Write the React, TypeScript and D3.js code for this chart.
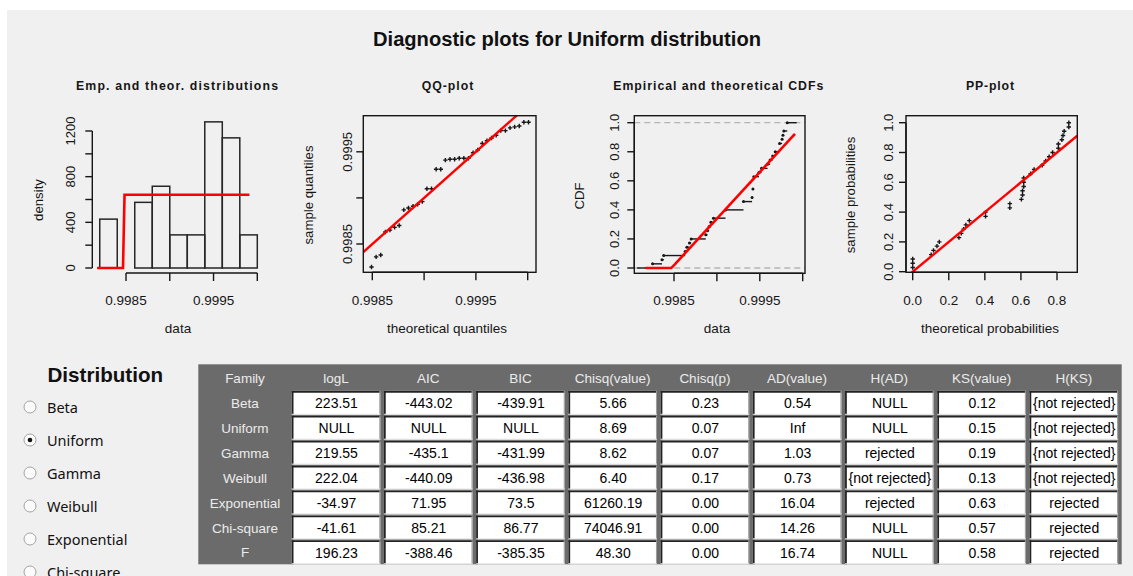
import React, { useEffect } from "react";
import * as d3 from "d3";

// ---- fitted sample (sorted) and uniform fit bounds ----
const sampleValues = [
  0.99825, 0.99836, 0.99838, 0.99863, 0.99865, 0.99868, 0.9987, 0.99887, 0.99889,
  0.99891, 0.99893, 0.99896, 0.9991, 0.9991, 0.99931, 0.99931, 0.99941, 0.99942,
  0.99942, 0.99943, 0.99943, 0.99943, 0.99949, 0.99952, 0.99959, 0.99962, 0.99965,
  0.99968, 0.99973, 0.99973, 0.99976, 0.99977, 0.99978, 0.99982, 0.99982,
];
const uniformMin = 0.99847;
const uniformMax = 1.00003;

// ---- histogram ----
const histBreaks = [0.9982, 0.9984, 0.9986, 0.9988, 0.999, 0.9992, 0.9994, 0.9996, 0.9998, 1.0];
const histDensity = [428, 0, 575, 716, 290, 290, 1280, 1140, 290];
const histYTicks = [0, 200, 400, 600, 800, 1000, 1200];
const histYLabels = [0, 400, 800, 1200];

// range over which the theoretical curves are evaluated
const curveRange = [0.99817, 0.99991];
const curveSteps = 101;
const ecdfExtent = [0.99807, 0.99993];

// ---- axis ticks ----
const dataTicks = [0.9985, 0.999, 0.9995, 1.0];
const dataLabels = [0.9985, 0.9995];
const qqYTicks = [0.9985, 0.999, 0.9995];
const qqYLabels = [0.9985, 0.9995];
const probTicksY = [0, 0.2, 0.4, 0.6, 0.8, 1.0];
const probTicksX = [0, 0.2, 0.4, 0.6, 0.8];

// ---- GUI: distribution chooser + goodness-of-fit table ----
const distributionOptions = ["Beta", "Uniform", "Gamma", "Weibull", "Exponential", "Chi-square"];
const selectedDistribution = "Uniform";

const tableHeaders = ["Family", "logL", "AIC", "BIC", "Chisq(value)", "Chisq(p)", "AD(value)", "H(AD)", "KS(value)", "H(KS)"];
const families = ["Beta", "Uniform", "Gamma", "Weibull", "Exponential", "Chi-square", "F"];
const logL = ["223.51", "NULL", "219.55", "222.04", "-34.97", "-41.61", "196.23"];
const aic = ["-443.02", "NULL", "-435.1", "-440.09", "71.95", "85.21", "-388.46"];
const bic = ["-439.91", "NULL", "-431.99", "-436.98", "73.5", "86.77", "-385.35"];
const chisqValue = ["5.66", "8.69", "8.62", "6.40", "61260.19", "74046.91", "48.30"];
const chisqP = ["0.23", "0.07", "0.07", "0.17", "0.00", "0.00", "0.00"];
const adValue = ["0.54", "Inf", "1.03", "0.73", "16.04", "14.26", "16.74"];
const hAD = ["NULL", "NULL", "rejected", "{not rejected}", "rejected", "NULL", "NULL"];
const ksValue = ["0.12", "0.15", "0.19", "0.13", "0.63", "0.57", "0.58"];
const hKS = ["{not rejected}", "{not rejected}", "{not rejected}", "{not rejected}", "rejected", "rejected", "rejected"];
const tableColumns = [logL, aic, bic, chisqValue, chisqP, adValue, hAD, ksValue, hKS];

const W = 1133;
const H = 576;
const FONT = "'Liberation Sans', Arial, Helvetica, sans-serif";
const UI_FONT = "'Noto Sans', 'Open Sans', sans-serif";
const INK = "#161616";
const RED = "#ff0000";

const n = sampleValues.length;
const dunif = (x: number) => (x >= uniformMin && x <= uniformMax ? 1 / (uniformMax - uniformMin) : 0);
const punif = (x: number) => Math.max(0, Math.min(1, (x - uniformMin) / (uniformMax - uniformMin)));
const qunif = (p: number) => uniformMin + p * (uniformMax - uniformMin);
const curveGrid = d3.range(curveSteps).map(
  (i) => curveRange[0] + ((curveRange[1] - curveRange[0]) * i) / (curveSteps - 1)
);

const fmt4 = d3.format(".4f");
const fmt1 = d3.format(".1f");

function Cross({ x, y }: { x: number; y: number }) {
  return (
    <path d={`M${x - 2.2},${y}h4.4M${x},${y - 2.2}v4.4`} stroke={INK} strokeWidth={1.4} fill="none" />
  );
}

function PanelTitle({ x, text, width }: { x: number; text: string; width: number }) {
  return (
    <text x={x} y={89.5} textAnchor="middle" fontFamily={FONT} fontWeight="bold" fontSize={12.3}
      fill={INK} textLength={width} lengthAdjust="spacing">
      {text}
    </text>
  );
}

function XAxis({ scale, ticks, labels, y, fmt }: any) {
  const t0 = scale(ticks[0]);
  const t1 = scale(ticks[ticks.length - 1]);
  return (
    <g>
      <line x1={t0} x2={t1} y1={y} y2={y} stroke={INK} strokeWidth={1.4} />
      {ticks.map((t: number) => (
        <line key={t} x1={scale(t)} x2={scale(t)} y1={y} y2={y + 8} stroke={INK} strokeWidth={1.4} />
      ))}
      {labels.map((t: number) => (
        <text key={t} x={scale(t)} y={304.5} textAnchor="middle" fontFamily={FONT} fontSize={13.5} fill={INK}>
          {fmt(t)}
        </text>
      ))}
    </g>
  );
}

function YAxis({ scale, ticks, labels, x, labelX, fmt }: any) {
  const t0 = scale(ticks[0]);
  const t1 = scale(ticks[ticks.length - 1]);
  return (
    <g>
      <line x1={x} x2={x} y1={t0} y2={t1} stroke={INK} strokeWidth={1.4} />
      {ticks.map((t: number) => (
        <line key={t} x1={x - 7} x2={x} y1={scale(t)} y2={scale(t)} stroke={INK} strokeWidth={1.4} />
      ))}
      {labels.map((t: number) => (
        <text key={t} transform={`translate(${labelX},${scale(t)}) rotate(-90)`} textAnchor="middle"
          fontFamily={FONT} fontSize={13} fill={INK}>
          {fmt(t)}
        </text>
      ))}
    </g>
  );
}

function AxisTitles({ cx, cy, xText, yText, yx }: any) {
  return (
    <g>
      <text x={cx} y={333} textAnchor="middle" fontFamily={FONT} fontSize={13.5} fill={INK}>{xText}</text>
      <text transform={`translate(${yx},${cy}) rotate(-90)`} textAnchor="middle" fontFamily={FONT}
        fontSize={13.2} fill={INK}>{yText}</text>
    </g>
  );
}

function Box({ l, r, t, b }: any) {
  return <rect x={l} y={t} width={r - l} height={b - t} fill="none" stroke={INK} strokeWidth={1.4} />;
}

function HistogramPanel() {
  const x = d3.scaleLinear().domain([0.9985, 1.0]).range([126, 257.3]);
  const y = d3.scaleLinear().domain([0, 1200]).range([268, 131]);
  const curve = d3.line<number>().x((v) => x(v)).y((v) => y(dunif(v)));
  return (
    <g>
      <PanelTitle x={177} text="Emp. and theor. distributions" width={202} />
      {histDensity.map((d, i) => (
        <rect key={i} x={x(histBreaks[i])} y={y(d)} width={x(histBreaks[i + 1]) - x(histBreaks[i])}
          height={y(0) - y(d)} fill="none" stroke="#262626" strokeWidth={1.5} />
      ))}
      <path d={curve(curveGrid) || ""} fill="none" stroke={RED} strokeWidth={2.6} />
      <YAxis scale={y} ticks={histYTicks} labels={histYLabels} x={92.3} labelX={74.5} fmt={(v: number) => String(v)} />
      <XAxis scale={x} ticks={dataTicks} labels={dataLabels} y={273} fmt={fmt4} />
      <AxisTitles cx={178} cy={200} xText="data" yText="density" yx={42.5} />
    </g>
  );
}

function QQPanel() {
  const box = { l: 363.3, r: 536, t: 115.7, b: 272.3 };
  const x = d3.scaleLinear().domain([0.9985, 1.0]).range([372.3, 527.7]);
  const y = d3.scaleLinear().domain([0.9985, 0.9995]).range([244, 151.8]);
  const lo = x.invert(box.l);
  const hi = x.invert(box.r);
  return (
    <g>
      <PanelTitle x={447.5} text="QQ-plot" width={51.6} />
      <clipPath id="qq-clip">
        <rect x={box.l} y={box.t} width={box.r - box.l} height={box.b - box.t} />
      </clipPath>
      {sampleValues.map((v, i) => (
        <Cross key={i} x={x(qunif((i + 0.5) / n))} y={y(v)} />
      ))}
      <line x1={x(lo)} y1={y(lo)} x2={x(hi)} y2={y(hi)} stroke={RED} strokeWidth={2.4} clipPath="url(#qq-clip)" />
      <Box {...box} />
      <YAxis scale={y} ticks={qqYTicks} labels={qqYLabels} x={box.l} labelX={351.5} fmt={fmt4} />
      <XAxis scale={x} ticks={dataTicks} labels={dataLabels} y={box.b} fmt={fmt4} />
      <AxisTitles cx={447} cy={195} xText="theoretical quantiles" yText="sample quantiles" yx={313} />
    </g>
  );
}

function CDFPanel() {
  const box = { l: 634.3, r: 805, t: 115.7, b: 273.3 };
  const x = d3.scaleLinear().domain([0.9985, 1.0]).range([674, 802.7]);
  const y = d3.scaleLinear().domain([0, 1]).range([268, 122.7]);
  // empirical step function: one jump per distinct value
  const steps: { v: number; p: number }[] = [];
  sampleValues.forEach((v, i) => {
    const last = steps[steps.length - 1];
    if (last && last.v === v) last.p = (i + 1) / n;
    else steps.push({ v, p: (i + 1) / n });
  });
  const curve = d3.line<number>().x((v) => x(v)).y((v) => y(punif(v)));
  return (
    <g>
      <PanelTitle x={718.3} text="Empirical and theoretical CDFs" width={210} />
      {[0, 1].map((h) => (
        <line key={h} x1={box.l} x2={box.r} y1={y(h)} y2={y(h)} stroke="#b4b4b4" strokeWidth={1.3}
          strokeDasharray="6 4" />
      ))}
      <line x1={x(ecdfExtent[0])} x2={x(steps[0].v)} y1={y(0)} y2={y(0)} stroke={INK} strokeWidth={1.4} />
      {steps.map((s, k) => {
        const next = k + 1 < steps.length ? steps[k + 1].v : ecdfExtent[1];
        return (
          <g key={k}>
            <line x1={x(s.v)} x2={x(next)} y1={y(s.p)} y2={y(s.p)} stroke={INK} strokeWidth={1.4} />
            <circle cx={x(s.v)} cy={y(s.p)} r={1.5} fill={INK} />
          </g>
        );
      })}
      <path d={curve(curveGrid) || ""} fill="none" stroke={RED} strokeWidth={2.6} />
      <Box {...box} />
      <YAxis scale={y} ticks={probTicksY} labels={probTicksY} x={box.l} labelX={619} fmt={fmt1} />
      <XAxis scale={x} ticks={dataTicks} labels={dataLabels} y={box.b} fmt={fmt4} />
      <AxisTitles cx={717} cy={196} xText="data" yText="CDF" yx={584} />
    </g>
  );
}

function PPPanel() {
  const box = { l: 906, r: 1077.3, t: 115.7, b: 272.3 };
  const x = d3.scaleLinear().domain([0, 0.8]).range([912.7, 1057]);
  const y = d3.scaleLinear().domain([0, 1]).range([271.7, 122.7]);
  const lo = x.invert(box.l);
  const hi = x.invert(box.r);
  return (
    <g>
      <PanelTitle x={990} text="PP-plot" width={48} />
      <clipPath id="pp-clip">
        <rect x={box.l} y={box.t} width={box.r - box.l} height={box.b - box.t} />
      </clipPath>
      {sampleValues.map((v, i) => (
        <Cross key={i} x={x(punif(v))} y={y((i + 1) / n)} />
      ))}
      <line x1={x(lo)} y1={y(lo)} x2={x(hi)} y2={y(hi)} stroke={RED} strokeWidth={2.4} clipPath="url(#pp-clip)" />
      <Box {...box} />
      <YAxis scale={y} ticks={probTicksY} labels={probTicksY} x={box.l} labelX={893} fmt={fmt1} />
      <XAxis scale={x} ticks={probTicksX} labels={probTicksX} y={box.b} fmt={fmt1} />
      <AxisTitles cx={990} cy={195} xText="theoretical probabilities" yText="sample probabilities" yx={855} />
    </g>
  );
}

function DistributionChooser() {
  const rowY = d3.scaleLinear().domain([0, 1]).range([407, 440]);
  return (
    <g>
      <text x={47.5} y={381.5} fontFamily={FONT} fontWeight="bold" fontSize={20.6} fill="#111">
        Distribution
      </text>
      {distributionOptions.map((d, i) => {
        const cy = rowY(i);
        return (
          <g key={d}>
            <circle cx={30} cy={cy} r={6} fill="#fbfbfb" stroke="#a3a3a3" strokeWidth={1} />
            {d === selectedDistribution && <circle cx={30} cy={cy} r={2.3} fill="#111" />}
            <text x={47} y={cy + 5.6} fontFamily={UI_FONT} fontSize={14.5} fill="#111">{d}</text>
          </g>
        );
      })}
    </g>
  );
}

function ResultsTable() {
  const left = 198.3;
  const right = 1121.7;
  const top = 364.3;
  const headerBottom = 390.5;
  const rowH = 24.9;
  const colX = d3.scaleLinear().domain([0, 9]).range([291.7, 1121.7]);
  const colW = 88.6;
  const rowTop = (i: number) => headerBottom + rowH * i;
  const bottom = rowTop(families.length) - 0.5;
  const headerFill = "#ececec";
  return (
    <g>
      <rect x={left} y={top} width={right - left} height={bottom - top} fill="#6b6b6b" />
      {tableHeaders.map((h, j) => {
        const cx = j === 0 ? (left + colX(0)) / 2 : colX(j - 1) + colW / 2;
        return (
          <text key={h} x={cx} y={382.5} textAnchor="middle" fontFamily={FONT} fontSize={13.5} fill={headerFill}>
            {h}
          </text>
        );
      })}
      {families.map((f, i) => (
        <text key={f} x={(left + colX(0)) / 2} y={rowTop(i) + 17.5} textAnchor="middle" fontFamily={FONT}
          fontSize={13.5} fill={headerFill}>
          {f}
        </text>
      ))}
      {families.map((f, i) =>
        tableColumns.map((col, j) => {
          const x0 = colX(j);
          const y0 = rowTop(i) + 0.4;
          const h = rowH - 1;
          return (
            <g key={`${f}-${j}`}>
              <rect x={x0} y={y0} width={colW} height={h} fill="#ffffff" />
              <line x1={x0} x2={x0 + colW} y1={y0 + 0.9} y2={y0 + 0.9} stroke="#222" strokeWidth={1.8} />
              <line x1={x0 + 0.9} x2={x0 + 0.9} y1={y0} y2={y0 + h} stroke="#222" strokeWidth={1.8} />
              <line x1={x0 + colW - 0.5} x2={x0 + colW - 0.5} y1={y0} y2={y0 + h} stroke="#9a9a9a" strokeWidth={1} />
              <line x1={x0} x2={x0 + colW} y1={y0 + h - 0.5} y2={y0 + h - 0.5} stroke="#e4e4e4" strokeWidth={1} />
              <text x={x0 + colW / 2 + 0.5} y={rowTop(i) + 17.8} textAnchor="middle" fontFamily={FONT}
                fontSize={14} fill="#000">
                {col[i]}
              </text>
            </g>
          );
        })
      )}
    </g>
  );
}

export default function App() {
  useEffect(() => {
    document.body.style.margin = "0";
    document.body.style.overflow = "hidden";
  }, []);
  return (
    <div style={{ position: "absolute", left: 0, top: 0, width: W, height: H, overflow: "hidden" }}>
      <svg width={W} height={H} viewBox={`0 0 ${W} ${H}`} style={{ display: "block" }}>
        <rect x={0} y={0} width={W} height={H} fill="#ffffff" />
        <rect x={7} y={10} width={W - 7} height={H - 10} fill="#f0f0f0" />
        <text x={567} y={46} textAnchor="middle" fontFamily={FONT} fontWeight="bold" fontSize={20} fill="#111"
          textLength={388} lengthAdjust="spacingAndGlyphs">
          Diagnostic plots for Uniform distribution
        </text>
        <HistogramPanel />
        <QQPanel />
        <CDFPanel />
        <PPPanel />
        <DistributionChooser />
        <ResultsTable />
      </svg>
    </div>
  );
}
